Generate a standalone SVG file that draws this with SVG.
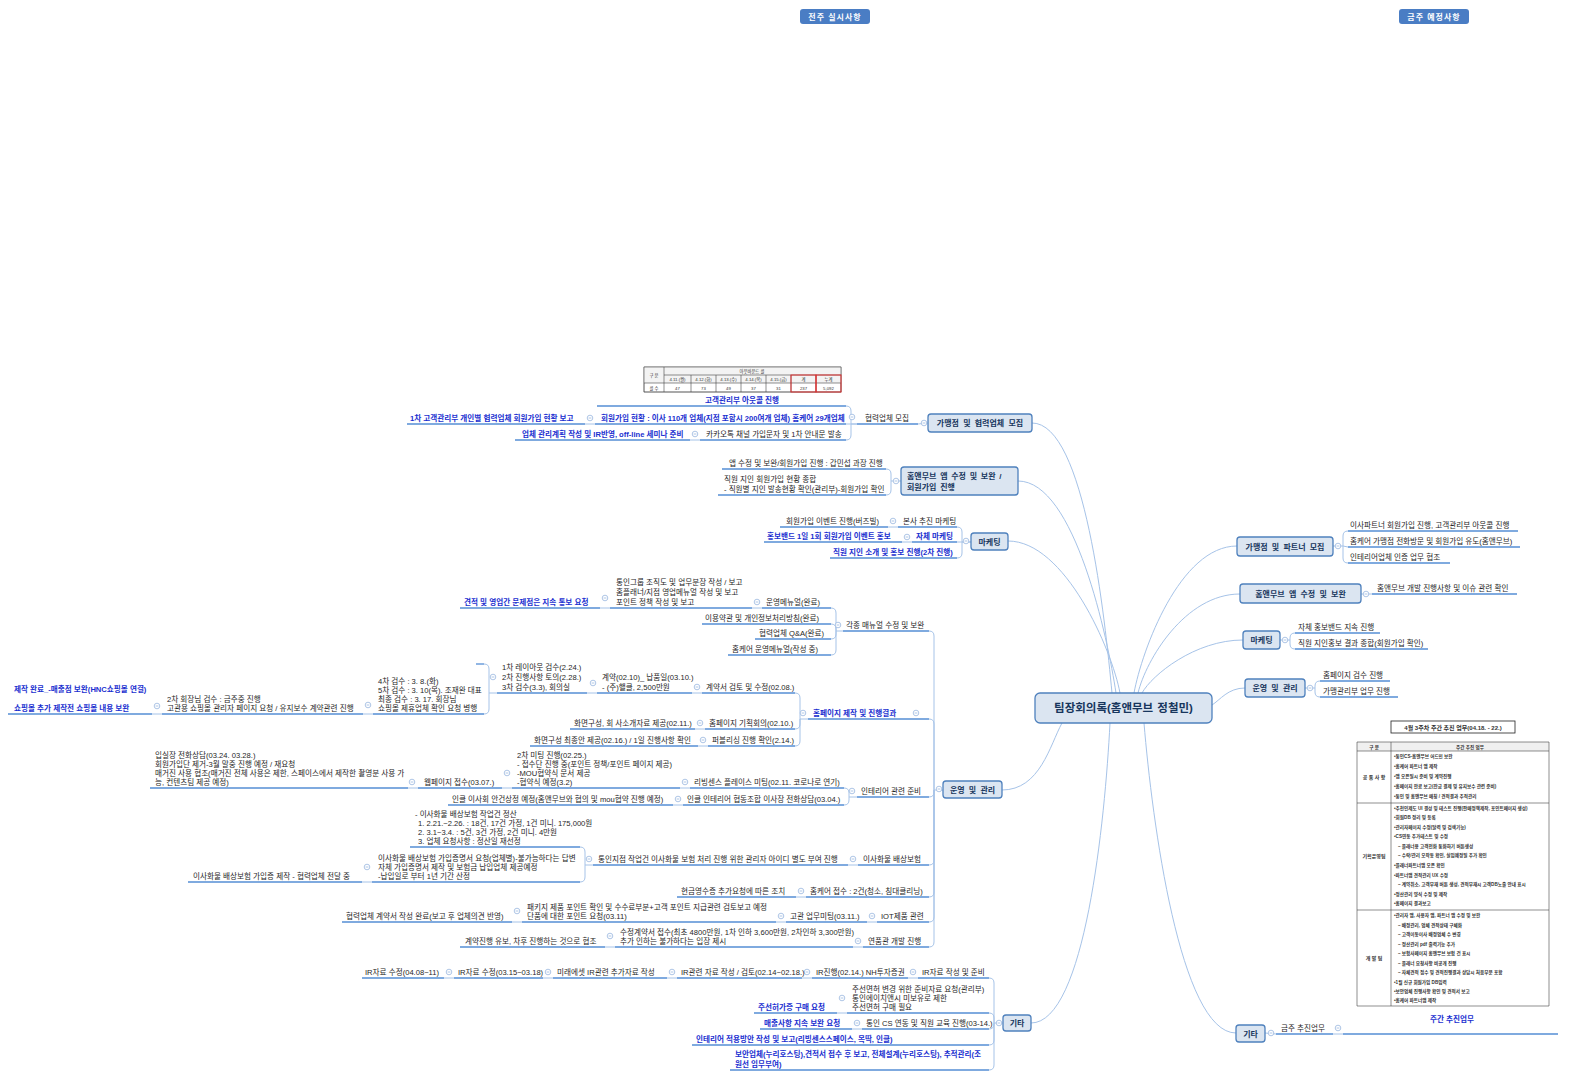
<svg xmlns="http://www.w3.org/2000/svg" xmlns:xlink="http://www.w3.org/1999/xlink" width="1570" height="1079" viewBox="0 0 1570 1079">
<style>
.t{font-family:'Liberation Sans','Noto Sans CJK KR',sans-serif;font-size:7.6px;fill:#262626}
.b{fill:#1a2fd0;font-weight:bold}
.u{fill:none;stroke:#558ed5;stroke-width:1.3}
.c{fill:none;stroke:#a6c3e8;stroke-width:1}
.bx{fill:#dbe5f1;stroke:#4f81bd;stroke-width:1.3}
.bt{font-family:'Liberation Sans','Noto Sans CJK KR',sans-serif;font-size:8px;font-weight:bold;fill:#17365d;text-anchor:middle;word-spacing:2px}
.tg{font-family:'Liberation Sans','Noto Sans CJK KR',sans-serif;font-size:8px;font-weight:bold;fill:#fff;text-anchor:middle;letter-spacing:1px}
.tb{font-family:'Liberation Sans','Noto Sans CJK KR',sans-serif;font-size:4.6px;fill:#333;font-weight:bold}
.ts{font-family:'Liberation Sans','Noto Sans CJK KR',sans-serif;font-size:4.3px;fill:#333;text-anchor:middle}
.ln{stroke:#444;stroke-width:0.6;fill:none}
</style>
<defs>
<g id="k"><circle r="2.8" fill="#fff" stroke="#9ab8e0" stroke-width="0.8"/><path d="M-1.4 0H1.4" stroke="#9ab8e0" stroke-width="0.8"/></g>
</defs>
<rect width="1570" height="1079" fill="#fff"/>

<g id="label-prev"><rect x="800" y="9" width="70" height="15" rx="3" fill="#4a7dc4"/><text class="tg" x="835" y="20">전주 실시사항</text></g>
<g id="label-next"><rect x="1399" y="9" width="70" height="15" rx="3" fill="#4a7dc4"/><text class="tg" x="1434" y="20">금주 예정사항</text></g>

<g id="connectors">
<path class="c" d="M1032 423C1085 423 1105 620 1112 693M1018 481C1075 481 1108 640 1116 693M1008 541C1065 541 1112 650 1120 693M1002 790C1040 790 1050 745 1062 723M1031 1023C1085 1023 1105 820 1110 723"/>
<path class="c" d="M1237 546C1180 546 1142 650 1134 693M1240 594C1185 594 1146 660 1138 693M1243 640C1195 640 1152 675 1142 693M1245 688C1228 688 1220 700 1212 705M1236 1033C1180 1033 1152 820 1144 723"/>
<path class="c" d="M918 424L928 423M846 406Q851 406 851 411V424H857M846 424H857M846 440Q851 440 851 435V424M585 424H595M690 440H700"/>
<path class="c" d="M886 469Q891 469 891 474V481H901M886 495Q891 495 891 490V481"/>
<path class="c" d="M957 527Q962 527 962 532V542H971M957 542H971M957 558Q962 558 962 553V542M888 527H898M902 542H912"/>
<path class="c" d="M929 631Q934 631 934 636V790H943M929 719Q934 719 934 724V790M929 797Q934 797 934 792V790M929 865Q934 865 934 860V790M929 897Q934 897 934 892V790M929 922Q934 922 934 917V790M929 947Q934 947 934 942V790"/>
<path class="c" d="M831 608Q836 608 836 613V631H843M831 624Q836 624 836 629V631M831 639Q836 639 836 634V631M831 655Q836 655 836 650V631M752 608H762M600 608H610"/>
<path class="c" d="M795 693Q800 693 800 698V719H808M795 729Q800 729 800 724V719M795 746Q800 746 800 741V719M692 693H702M587 693H597M484 664Q489 664 489 669V693H497M484 714Q489 714 489 709V693M363 714H373M152 714H162M695 729H705M698 746H708"/>
<path class="c" d="M844 788Q849 788 849 793V797H857M844 805Q849 805 849 800V797M680 788H690M502 788H512M408 788H418M673 805H683"/>
<path class="c" d="M848 865H858M580 847Q585 847 585 852V865H593M580 882Q585 882 585 877V865M362 882H372M796 897H806M867 922H877M776 922H786M512 922H522M853 947H863M605 947H615"/>
<path class="c" d="M989 978Q994 978 994 983V1023H1003M989 1013Q994 1013 994 1018V1023M989 1029Q994 1029 994 1024V1023M989 1045Q994 1045 994 1040V1023M989 1070Q994 1070 994 1065V1023M908 978H918M802 978H812M667 978H677M543 978H553M444 978H454M837 1013H847M852 1029H862"/>
<path class="c" d="M1348 531Q1343 531 1343 536V546H1333M1348 547L1343 546M1348 563Q1343 563 1343 558V546M1361 594H1372M1295 633Q1290 633 1290 638V640H1280M1295 649Q1290 649 1290 644V640M1320 681Q1315 681 1315 686V688H1305M1320 697Q1315 697 1315 692V688M1265 1033L1276 1034M1333 1034H1343"/>
</g>

<g id="center"><rect class="bx" x="1035" y="693" width="177" height="30" rx="5" stroke-width="2"/><text class="bt" x="1123.5" y="712" style="font-size:11.5px;word-spacing:1px">팀장회의록(홈앤무브 정철민)</text></g>

<g id="b1"><rect class="bx" x="928" y="414" width="104" height="18" rx="3"/><text class="bt" x="980" y="426">가맹점 및 협력업체 모집</text><use href="#k" x="924" y="423"/></g>
<g id="b1-recruit"><path class="u" d="M857 424H918"/><text class="t" x="865" y="421">협력업체 모집</text><use href="#k" x="852" y="417"/></g>
<g id="call-table">
<rect x="644" y="367" width="197" height="25" fill="#fff" stroke="#555" stroke-width="0.5"/>
<rect x="644" y="367" width="197" height="16" fill="#f3f3f3"/>
<path class="ln" d="M644 367H841V392H644ZM664 375H841M644 383H841M664 367V392M691 375V392M716 375V392M741 375V392M766 375V392M791 375V392M816 375V392"/>
<text class="ts" x="654" y="377">구 분</text><text class="ts" x="752" y="373">아웃바운드 콜</text>
<text class="ts" x="677.5" y="381">4.11.(월)</text><text class="ts" x="703.5" y="381">4.12.(화)</text><text class="ts" x="728.5" y="381">4.13.(수)</text><text class="ts" x="753.5" y="381">4.14.(목)</text><text class="ts" x="778.5" y="381">4.15.(금)</text><text class="ts" x="803.5" y="381">계</text><text class="ts" x="828.5" y="381">누계</text>
<text class="ts" x="654" y="389.5">콜 수</text><text class="ts" x="677.5" y="389.5">47</text><text class="ts" x="703.5" y="389.5">73</text><text class="ts" x="728.5" y="389.5">49</text><text class="ts" x="753.5" y="389.5">37</text><text class="ts" x="778.5" y="389.5">31</text><text class="ts" x="803.5" y="389.5">237</text><text class="ts" x="828.5" y="389.5">5,092</text>
<rect x="791" y="375" width="25" height="17" fill="none" stroke="#e03030" stroke-width="1"/><rect x="816" y="375" width="25" height="17" fill="none" stroke="#e03030" stroke-width="1"/>
</g>
<g id="b1-outcall"><path class="u" d="M597 406H846"/><text class="t b" x="742" y="403" text-anchor="middle">고객관리부 아웃콜 진행</text></g>
<g id="b1-status"><path class="u" d="M595 424H846"/><text class="t b" x="601" y="421">회원가입 현황 : 이사 110개 업체(지점 포함시 200여개 업체) 홈케어 29개업체</text><use href="#k" x="590" y="418"/></g>
<g id="b1-report"><path class="u" d="M407 424H585"/><text class="t b" x="410" y="421">1차 고객관리부 개인별 협력업체 회원가입 현황 보고</text></g>
<g id="b1-kakao"><path class="u" d="M700 440H846"/><text class="t" x="706" y="437">카카오톡 채널 가입문자 및 1차 안내문 발송</text><use href="#k" x="695" y="434"/></g>
<g id="b1-plan"><path class="u" d="M515 440H690"/><text class="t b" x="522" y="437">업체 관리계획 작성 및 IR반영, off-line 세미나 준비</text></g>

<g id="b2"><rect class="bx" x="901" y="467" width="117" height="28" rx="3"/><text class="bt" x="907" y="479" style="text-anchor:start;word-spacing:1.5px">홈앤무브 앱 수정 및 보완 /</text><text class="bt" x="907" y="490" style="text-anchor:start;word-spacing:1.5px">회원가입 진행</text><use href="#k" x="896" y="481"/></g>
<g id="b2-app"><path class="u" d="M722 469H886"/><text class="t" x="729" y="466">앱 수정 및 보완/회원가입 진행 : 갑민섭 과장 진행</text></g>
<g id="b2-staff"><path class="u" d="M718 495H886"/><text class="t" x="724" y="482">직원 지인 회원가입 현황 종합</text><text class="t" x="724" y="492">- 직원별 지인 발송현황 확인(관리부)-회원가입 확인</text></g>

<g id="b3"><rect class="bx" x="971" y="533" width="37" height="17" rx="3"/><text class="bt" x="989.5" y="544.5">마케팅</text><use href="#k" x="966" y="541"/></g>
<g id="b3-hq"><path class="u" d="M898 527H957"/><text class="t" x="903" y="524">본사 추진 마케팅</text><use href="#k" x="893" y="521"/></g>
<g id="b3-event"><path class="u" d="M780 527H888"/><text class="t" x="786" y="524">회원가입 이벤트 진행(버즈빌)</text></g>
<g id="b3-self"><path class="u" d="M912 542H957"/><text class="t b" x="916" y="539">자체 마케팅</text><use href="#k" x="907" y="537"/></g>
<g id="b3-band"><path class="u" d="M764 542H902"/><text class="t b" x="767" y="539">홍보밴드 1일 1회 회원가입 이벤트 홍보</text></g>
<g id="b3-intro"><path class="u" d="M830 558H957"/><text class="t b" x="833" y="555">직원 지인 소개 및 홍보 진행(2차 진행)</text></g>

<g id="b4"><rect class="bx" x="943" y="781" width="59" height="17" rx="3"/><text class="bt" x="972.5" y="792.5">운영 및 관리</text><use href="#k" x="939" y="789"/></g>
<g id="b4-manual"><path class="u" d="M843 631H929"/><text class="t" x="846" y="628">각종 매뉴얼 수정 및 보완</text><use href="#k" x="838" y="625"/></g>
<g id="b4-opmanual"><path class="u" d="M762 608H831"/><text class="t" x="766" y="605">운영메뉴얼(완료)</text><use href="#k" x="757" y="602"/></g>
<g id="b4-org"><path class="u" d="M610 608H752"/><text class="t" x="616" y="585">통인그룹 조직도 및 업무분장 작성 / 보고</text><text class="t" x="616" y="595">홈플래너/지점 영업메뉴얼 작성 및 보고</text><text class="t" x="616" y="605">포인트 정책 작성 및 보고</text><use href="#k" x="605" y="598"/></g>
<g id="b4-estimate"><path class="u" d="M460 608H600"/><text class="t b" x="464" y="605">견적 및 영업간 문제점은 지속 통보 요청</text></g>
<g id="b4-terms"><path class="u" d="M702 624H831"/><text class="t" x="705" y="621">이용약관 및 개인정보처리방침(완료)</text></g>
<g id="b4-qa"><path class="u" d="M755 639H831"/><text class="t" x="759" y="636">협력업체 Q&amp;A(완료)</text></g>
<g id="b4-homecare"><path class="u" d="M728 655H831"/><text class="t" x="732" y="652">홈케어 운영메뉴얼(작성 중)</text></g>

<g id="b4-web"><path class="u" d="M808 719H929"/><text class="t b" x="813" y="716">홈페이지 제작 및 진행결과</text><use href="#k" x="803" y="713"/><use href="#k" x="916" y="713"/></g>
<g id="b4-contract"><path class="u" d="M702 693H795"/><text class="t" x="706" y="690">계약서 검토 및 수정(02.08.)</text><use href="#k" x="697" y="687"/></g>
<g id="b4-contract2"><path class="u" d="M597 693H692"/><text class="t" x="602" y="680">계약(02.10)_ 납품일(03.10.)</text><text class="t" x="602" y="690">- (주)핼클, 2,500만원</text><use href="#k" x="593" y="683"/></g>
<g id="b4-inspect"><path class="u" d="M497 693H587"/><text class="t" x="502" y="670">1차 레이아웃 검수(2.24.)</text><text class="t" x="502" y="680">2차 진행사항 토의(2.28.)</text><text class="t" x="502" y="690">3차 검수(3.3), 회의실</text><use href="#k" x="493" y="677"/></g>
<g id="b4-empty"><path class="u" d="M476 664H484"/></g>
<g id="b4-inspect2"><path class="u" d="M373 714H484"/><text class="t" x="378" y="684">4차 검수 : 3. 8.(화)</text><text class="t" x="378" y="693">5차 검수 : 3. 10(목). 조재완 대표</text><text class="t" x="378" y="702">최종 검수 : 3. 17. 회장님</text><text class="t" x="378" y="711">쇼핑몰 제휴업체 확인 요청 병행</text><use href="#k" x="368" y="705"/></g>
<g id="b4-chair"><path class="u" d="M162 714H363"/><text class="t" x="167" y="702">2차 회장님 검수 : 금주중 진행</text><text class="t" x="167" y="711">고관용 쇼핑몰 관리자 페이지 요청 / 유지보수 계약관련 진행</text><use href="#k" x="157" y="706"/></g>
<g id="b4-done"><path class="u" d="M8 714H152"/><text class="t b" x="14" y="692">제작 완료_-매출점 보완(HNC쇼핑몰 연결)</text><text class="t b" x="14" y="711">쇼핑몰 추가 제작전 쇼핑몰 내용 보완</text></g>
<g id="b4-plan"><path class="u" d="M705 729H795"/><text class="t" x="709" y="726">홈페이지 기획회의(02.10.)</text><use href="#k" x="700" y="723"/></g>
<g id="b4-screen"><path class="u" d="M570 729H695"/><text class="t" x="574" y="726">화면구성, 회 사소개자료 제공(02.11.)</text></g>
<g id="b4-publish"><path class="u" d="M708 746H795"/><text class="t" x="712" y="743">퍼블리싱 진행 확인(2.14.)</text><use href="#k" x="703" y="740"/></g>
<g id="b4-final"><path class="u" d="M530 746H698"/><text class="t" x="534" y="743">화면구성 최종안 제공(02.16.) / 1일 진행사항 확인</text></g>

<g id="b4-interior"><path class="u" d="M857 797H929"/><text class="t" x="861" y="794">인테리어 관련 준비</text><use href="#k" x="852" y="791"/></g>
<g id="b4-living"><path class="u" d="M690 788H844"/><text class="t" x="694" y="785">리빙센스 플레이스 미팅(02.11. 코로나로 연기)</text><use href="#k" x="685" y="782"/></g>
<g id="b4-meeting2"><path class="u" d="M512 788H680"/><text class="t" x="517" y="758">2차 미팅 진행(02.25.)</text><text class="t" x="517" y="767">- 접수단 진행 중(포인트 정책/포인트 페이지 제공)</text><text class="t" x="517" y="776">-MOU협약식 문서 제공</text><text class="t" x="517" y="785">-협약식 예정(3.2)</text><use href="#k" x="507" y="773"/></g>
<g id="b4-webpage"><path class="u" d="M418 788H502"/><text class="t" x="424" y="785">웹페이지 접수(03.07.)</text><use href="#k" x="412" y="782"/></g>
<g id="b4-call"><path class="u" d="M150 788H408"/><text class="t" x="155" y="758">입실장 전화상담(03.24. 03.28.)</text><text class="t" x="155" y="767">회원가입단 제거-3월 말중 진행 예정 / 재요청</text><text class="t" x="155" y="776">매거진 사용 협조(매거진 전체 사용은 제한, 스페이스에서 제작한 촬영분 사용 가</text><text class="t" x="155" y="785">능, 컨텐츠팀 제공 예정)</text></g>
<g id="b4-incl"><path class="u" d="M683 805H844"/><text class="t" x="687" y="802">인클 인테리어 협동조합 이사장 전화상담(03.04.)</text><use href="#k" x="678" y="799"/></g>
<g id="b4-incl2"><path class="u" d="M448 805H673"/><text class="t" x="452" y="802">인클 이사회 안건상정 예정(홈앤무브와 협의 및 mou협약 진행 예정)</text></g>

<g id="b4-insurance"><path class="u" d="M858 865H929"/><text class="t" x="863" y="862">이사화물 배상보험</text><use href="#k" x="853" y="859"/></g>
<g id="b4-ins1"><path class="u" d="M593 865H848"/><text class="t" x="598" y="862">통인지점 작업건 이사화물 보험 처리 진행 위한 관리자 아이디 별도 부여 진행</text><use href="#k" x="589" y="859"/></g>
<g id="b4-ins2"><path class="u" d="M410 847H580"/><text class="t" x="415" y="817">- 이사화물 배상보험 작업건 정산</text><text class="t" x="418" y="826">1. 2.21.~2.26. : 18건, 17건 가정, 1건 미니. 175,000원</text><text class="t" x="418" y="835">2. 3.1~3.4. : 5건, 3건 가정, 2건 미니. 4만원</text><text class="t" x="418" y="844">3. 업체 요청사항 : 정산일 재선정</text></g>
<g id="b4-ins3"><path class="u" d="M372 882H580"/><text class="t" x="378" y="861">이사화물 배상보험 가입증명서 요청(업체별)-불가능하다는 답변</text><text class="t" x="378" y="870">자체 가입증명서 제작 및 보험금 납입업체 제공예정</text><text class="t" x="378" y="879">-납입일로 부터 1년 기간 산정</text><use href="#k" x="367" y="867"/></g>
<g id="b4-ins4"><path class="u" d="M188 882H362"/><text class="t" x="193" y="879">이사화물 배상보험 가입증 제작 - 협력업체 전달 중</text></g>
<g id="b4-hc"><path class="u" d="M806 897H929"/><text class="t" x="810" y="894">홈케어 접수 : 2건(청소, 침대클리닝)</text><use href="#k" x="801" y="891"/></g>
<g id="b4-receipt"><path class="u" d="M677 897H796"/><text class="t" x="681" y="894">현금영수증 추가요청에 따른 조치</text></g>
<g id="b4-iot"><path class="u" d="M877 922H929"/><text class="t" x="881" y="919">IOT제품 관련</text><use href="#k" x="872" y="916"/></g>
<g id="b4-iot1"><path class="u" d="M786 922H867"/><text class="t" x="790" y="919">고관 업무미팅(03.11.)</text><use href="#k" x="781" y="916"/></g>
<g id="b4-iot2"><path class="u" d="M522 922H776"/><text class="t" x="527" y="910">패키지 제품 포인트 확인 및 수수료부분+고객 포인트 지급관련 검토보고 예정</text><text class="t" x="527" y="919">단품에 대한 포인트 요청(03.11)</text><use href="#k" x="517" y="911"/></g>
<g id="b4-iot3"><path class="u" d="M342 922H512"/><text class="t" x="346" y="919">협력업체 계약서 작성 완료(보고 후 업체의견 반영)</text></g>
<g id="b4-dev"><path class="u" d="M863 947H929"/><text class="t" x="868" y="944">연품관 개발 진행</text><use href="#k" x="858" y="941"/></g>
<g id="b4-dev1"><path class="u" d="M615 947H853"/><text class="t" x="620" y="935">수정계약서 접수(최초 4800만원, 1차 인하 3,600만원, 2차인하 3,300만원)</text><text class="t" x="620" y="944">추가 인하는 불가하다는 입장 제시</text><use href="#k" x="610" y="936"/></g>
<g id="b4-dev2"><path class="u" d="M460 947H605"/><text class="t" x="465" y="944">계약진행 유보, 차후 진행하는 것으로 협조</text></g>

<g id="b5"><rect class="bx" x="1003" y="1015" width="28" height="16" rx="3"/><text class="bt" x="1017" y="1026">기타</text><use href="#k" x="999" y="1023"/></g>
<g id="b5-ir"><path class="u" d="M918 978H989"/><text class="t" x="922" y="975">IR자료 작성 및 준비</text><use href="#k" x="913" y="972"/></g>
<g id="b5-ir1"><path class="u" d="M812 978H908"/><text class="t" x="816" y="975">IR진행(02.14.) NH투자증권</text><use href="#k" x="807" y="972"/></g>
<g id="b5-ir2"><path class="u" d="M677 978H802"/><text class="t" x="681" y="975">IR관련 자료 작성 / 검토(02.14~02.18.)</text><use href="#k" x="672" y="972"/></g>
<g id="b5-ir3"><path class="u" d="M553 978H667"/><text class="t" x="557" y="975">미래에셋 IR관련 추가자료 작성</text><use href="#k" x="548" y="972"/></g>
<g id="b5-ir4"><path class="u" d="M454 978H543"/><text class="t" x="458" y="975">IR자료 수정(03.15~03.18)</text><use href="#k" x="449" y="972"/></g>
<g id="b5-ir5"><path class="u" d="M362 978H444"/><text class="t" x="365" y="975">IR자료 수정(04.08~11)</text></g>
<g id="b5-license"><path class="u" d="M847 1013H989"/><text class="t" x="852" y="992">주선면허 변경 위한 준비자료 요청(관리부)</text><text class="t" x="852" y="1001">통인에이치앤시 미보유로 제한</text><text class="t" x="852" y="1010">주선면허 구매 필요</text><use href="#k" x="842" y="998"/></g>
<g id="b5-license1"><path class="u" d="M754 1013H837"/><text class="t b" x="758" y="1010">주선허가증 구매 요청</text></g>
<g id="b5-cs"><path class="u" d="M862 1029H989"/><text class="t" x="866" y="1026">통인 CS 연동 및 직원 교육 진행(03-14.)</text><use href="#k" x="857" y="1023"/></g>
<g id="b5-cs1"><path class="u" d="M760 1029H852"/><text class="t b" x="764" y="1026">매출사항 지속 보완 요청</text></g>
<g id="b5-interior"><path class="u" d="M692 1045H989"/><text class="t b" x="696" y="1042">인테리어 적용방안 작성 및 보고(리빙센스스페이스, 목딱, 인클)</text></g>
<g id="b5-security"><path class="u" d="M730 1070H989"/><text class="t b" x="735" y="1057">보안업체(누리호스팅),견적서 접수 후 보고, 전체설계(누리호스팅), 추적관리(조</text><text class="t b" x="735" y="1067">원선 임무부여)</text></g>

<g id="r1"><rect class="bx" x="1237" y="537" width="96" height="19" rx="3"/><text class="bt" x="1285" y="549.5">가맹점 및 파트너 모집</text><use href="#k" x="1338" y="546"/></g>
<g id="r1-a"><path class="u" d="M1348 531H1518"/><text class="t" x="1350" y="528">이사파트너 회원가입 진행, 고객관리부 아웃콜 진행</text></g>
<g id="r1-b"><path class="u" d="M1348 547H1520"/><text class="t" x="1350" y="544">홈케어 가맹점 전화방문 및 회원가입 유도(홈앤무브)</text></g>
<g id="r1-c"><path class="u" d="M1348 563H1450"/><text class="t" x="1350" y="560">인테리어업체 인증 업무 협조</text></g>
<g id="r2"><rect class="bx" x="1240" y="584" width="121" height="19" rx="3"/><text class="bt" x="1300.5" y="596.5">홈앤무브 앱 수정 및 보완</text><use href="#k" x="1366" y="594"/></g>
<g id="r2-a"><path class="u" d="M1372 594H1517"/><text class="t" x="1377" y="591">홈앤무브 개발 진행사항 및 이슈 관련 확인</text></g>
<g id="r3"><rect class="bx" x="1243" y="631" width="37" height="18" rx="3"/><text class="bt" x="1261.5" y="643">마케팅</text><use href="#k" x="1285" y="640"/></g>
<g id="r3-a"><path class="u" d="M1295 633H1380"/><text class="t" x="1298" y="630">자체 홍보밴드 지속 진행</text></g>
<g id="r3-b"><path class="u" d="M1295 649H1428"/><text class="t" x="1298" y="646">직원 지인홍보 결과 종합(회원가입 확인)</text></g>
<g id="r4"><rect class="bx" x="1245" y="679" width="60" height="18" rx="3"/><text class="bt" x="1275" y="691">운영 및 관리</text><use href="#k" x="1310" y="688"/></g>
<g id="r4-a"><path class="u" d="M1320 681H1390"/><text class="t" x="1323" y="678">홈페이지 검수 진행</text></g>
<g id="r4-b"><path class="u" d="M1320 697H1398"/><text class="t" x="1323" y="694">가맹관리부 업무 진행</text></g>
<g id="r5"><rect class="bx" x="1236" y="1025" width="29" height="17" rx="3"/><text class="bt" x="1250.5" y="1036.5">기타</text><use href="#k" x="1271" y="1033"/></g>
<g id="r5-a"><path class="u" d="M1276 1034H1333"/><text class="t" x="1281" y="1031">금주 추진업무</text><use href="#k" x="1338" y="1028"/></g>
<g id="r5-weekly">
<path class="u" d="M1343 1034H1558"/><text class="t b" x="1452" y="1022" text-anchor="middle">주간 추진업무</text>
<rect x="1391" y="721" width="124" height="12" fill="#fff" stroke="#222" stroke-width="0.8"/>
<text class="tb" x="1453" y="729.5" text-anchor="middle" style="font-size:6px">4월 3주차 주간 추진 업무(04.18. - 22.)</text>
<rect x="1357" y="742" width="192" height="9" fill="#f0f0f0"/>
<path class="ln" d="M1357 742H1549V1006H1357ZM1357 751H1549M1357 803H1549M1357 910H1549M1391 742V1006"/>
<text class="tb" x="1374" y="748.5" text-anchor="middle">구    분</text><text class="tb" x="1470" y="748.5" text-anchor="middle">주간 추진 업무</text>
<text class="tb" x="1374" y="779" text-anchor="middle" style="font-size:5px">공 통 사 항</text>
<text class="tb" x="1374" y="858" text-anchor="middle" style="font-size:5px">기획운영팀</text>
<text class="tb" x="1374" y="960" text-anchor="middle" style="font-size:5px">개 발 팀</text>
<text class="tb" x="1394" y="758">•통인CS-홈앤무브 어드민 보완</text>
<text class="tb" x="1394" y="768">•홈케어 파트너 앱 제작</text>
<text class="tb" x="1394" y="778">•앱 오픈일시 준비 및 계약진행</text>
<text class="tb" x="1394" y="788">•홈페이지 완료 보고(잔금 결제 및 유지보수 관련 준비)</text>
<text class="tb" x="1394" y="798">•통인 및 홈앤무브 매칭 / 견적결과 추적관리</text>
<text class="tb" x="1394" y="810">•추천인제도 UI 결성 및 테스트 진행(판매정책제작, 포인트페이지 생성)</text>
<text class="tb" x="1394" y="819">•회원DB 정리 및 등록</text>
<text class="tb" x="1394" y="829">•관리자페이지 수정(달력 및 검색기능)</text>
<text class="tb" x="1394" y="838">•CS연동 추가테스트 및 수정</text>
<text class="tb" x="1398" y="848">– 플래너용 고객전화 통화하기 버튼생성</text>
<text class="tb" x="1398" y="857">– 수락/관리 오작동 확인, 실입예정일 추가 확인</text>
<text class="tb" x="1394" y="867">•플래너파트너앱 오픈 확인</text>
<text class="tb" x="1394" y="877">•파트너앱 견적관리 UX 수정</text>
<text class="tb" x="1398" y="886">– 계약취소, 고객부재 버튼 생성, 견적부재시 고객DB노출 안내 표시</text>
<text class="tb" x="1394" y="896">•정산관리 양식 수정 및 제작</text>
<text class="tb" x="1394" y="905">•홈페이지 결과보고</text>
<text class="tb" x="1394" y="917">•관리자 앱, 사용자 앱, 파트너 앱 수정 및 보완</text>
<text class="tb" x="1398" y="927">– 배정관리, 업체 견적상태 구체화</text>
<text class="tb" x="1398" y="936">– 고객이동이사 배정업체 수 변경</text>
<text class="tb" x="1398" y="946">– 정산관리 pdf 출력기능 추가</text>
<text class="tb" x="1398" y="955">– 보험사페이지 홈앤무브 보험 건 표시</text>
<text class="tb" x="1398" y="965">– 플래너 요청사항 비공개 진행</text>
<text class="tb" x="1398" y="974">– 자체견적 접수 및 견적진행결과 상담시 처음부분 포함</text>
<text class="tb" x="1394" y="984">•1월 신규 회원가입 DB입력</text>
<text class="tb" x="1394" y="993">•보안업체 진행사항 확인 및 견적서 보고</text>
<text class="tb" x="1394" y="1002">•홈케어 파트너앱 제작</text>
</g>
</svg>
